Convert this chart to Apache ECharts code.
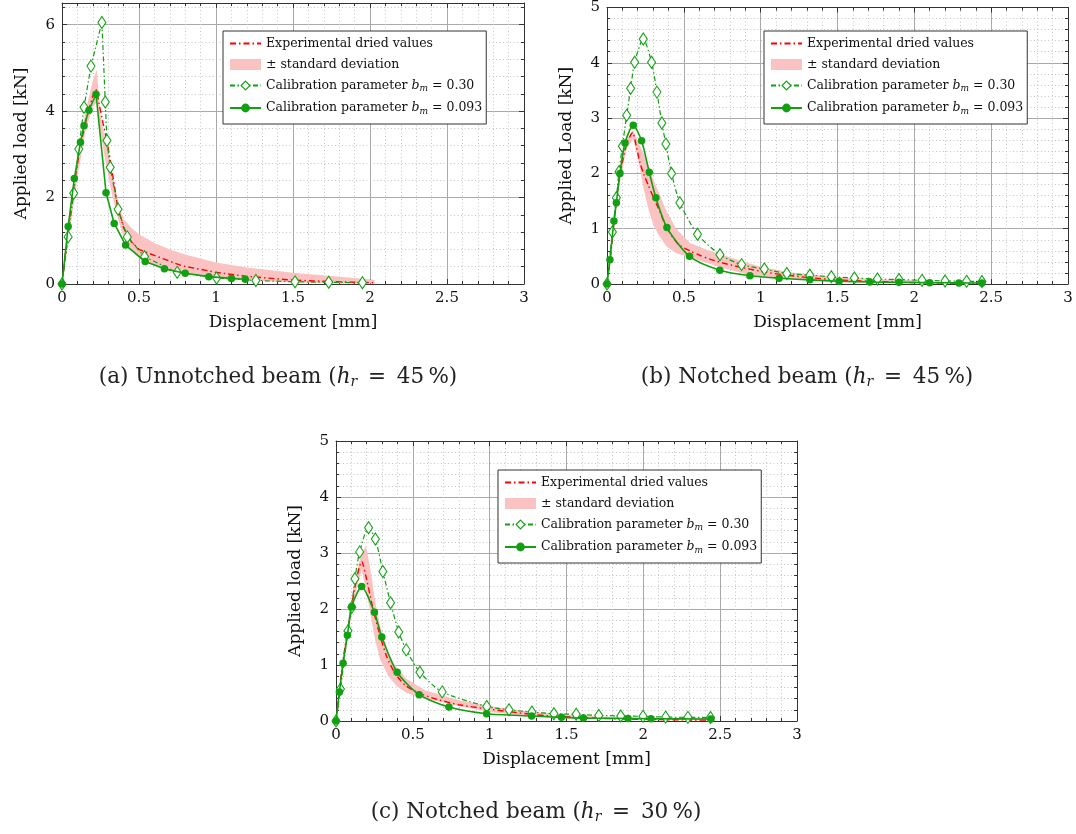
<!DOCTYPE html>
<html><head><meta charset="utf-8">
<script src="https://cdn.jsdelivr.net/npm/echarts@6/dist/echarts.min.js"></script>
<style>html,body{margin:0;padding:0;background:#fff}#chart{width:1076px;height:834px}</style>
</head><body><div id="chart"></div>
<script>
// ---------- DATA ----------
// (a) Unnotched beam, h_r = 45 %
const a_exp_x  = [0, 0.04, 0.08, 0.12, 0.16, 0.2, 0.222, 0.263, 0.295, 0.328, 0.36, 0.40, 0.45, 0.5, 0.6, 0.78, 1.0, 1.19, 1.5, 1.8, 2.02];
const a_exp_y  = [0, 1.25, 2.35, 3.2, 3.85, 4.35, 4.5, 3.78, 3.24, 2.56, 1.8, 1.3, 0.98, 0.8, 0.66, 0.42, 0.27, 0.18, 0.09, 0.05, 0.03];
const a_sd_x   = [0, 0.05, 0.1, 0.15, 0.2, 0.226, 0.246, 0.274, 0.306, 0.33, 0.36, 0.38, 0.40, 0.45, 0.5, 0.6, 0.7, 0.8, 1.0, 1.2, 1.5, 1.8, 2.03];
const a_sd_hi  = [0, 1.45, 2.85, 3.95, 4.7, 4.96, 4.0, 3.45, 3.0, 2.5, 2.0, 1.7, 1.5, 1.3, 1.15, 0.95, 0.8, 0.68, 0.5, 0.38, 0.26, 0.17, 0.1];
const a_sd_lo  = [0, 1.2, 2.45, 3.5, 4.1, 4.2, 3.6, 3.0, 2.4, 2.0, 1.55, 1.3, 1.1, 0.78, 0.6, 0.42, 0.31, 0.23, 0.13, 0.08, 0.04, 0.02, 0.01];
const a_b030_x = [0, 0.04, 0.076, 0.109, 0.143, 0.188, 0.259, 0.281, 0.292, 0.313, 0.364, 0.424, 0.536, 0.748, 1.004, 1.259, 1.513, 1.732, 1.951];
const a_b030_y = [0, 1.09, 2.10, 3.12, 4.09, 5.04, 6.05, 4.21, 3.32, 2.70, 1.73, 1.09, 0.63, 0.27, 0.14, 0.08, 0.05, 0.04, 0.03];
const a_b093_x = [0, 0.04, 0.08, 0.12, 0.143, 0.175, 0.221, 0.286, 0.339, 0.413, 0.54, 0.665, 0.80, 0.953, 1.10, 1.19];
const a_b093_y = [0, 1.33, 2.44, 3.28, 3.66, 4.02, 4.39, 2.11, 1.40, 0.90, 0.52, 0.35, 0.25, 0.17, 0.13, 0.11];

// (b) Notched beam, h_r = 45 %
const b_exp_x  = [0, 0.02, 0.045, 0.07, 0.1, 0.13, 0.167, 0.19, 0.214, 0.24, 0.268, 0.30, 0.333, 0.387, 0.463, 0.54, 0.604, 0.669, 0.755, 0.842, 0.929, 1.037, 1.145, 1.3, 1.5, 1.7, 1.9, 2.1, 2.3, 2.45];
const b_exp_y  = [0, 0.42, 1.1, 1.7, 2.2, 2.55, 2.74, 2.5, 2.2, 1.98, 1.79, 1.58, 1.38, 1.03, 0.72, 0.6, 0.52, 0.45, 0.38, 0.32, 0.27, 0.21, 0.17, 0.12, 0.075, 0.05, 0.032, 0.022, 0.016, 0.012];
const b_sd_x   = [0, 0.02, 0.045, 0.07, 0.1, 0.13, 0.17, 0.19, 0.214, 0.236, 0.27, 0.30, 0.333, 0.387, 0.45, 0.54, 0.65, 0.75, 0.88, 1.0, 1.2, 1.5, 1.8, 2.1];
const b_sd_hi  = [0, 0.47, 1.18, 1.8, 2.3, 2.62, 2.78, 2.65, 2.5, 2.38, 2.15, 1.9, 1.68, 1.32, 1.0, 0.74, 0.62, 0.53, 0.41, 0.31, 0.21, 0.12, 0.08, 0.06];
const b_sd_lo  = [0, 0.38, 1.0, 1.6, 2.1, 2.45, 2.62, 2.4, 2.1, 1.75, 1.35, 1.08, 0.9, 0.68, 0.56, 0.48, 0.38, 0.29, 0.2, 0.13, 0.08, 0.05, 0.03, 0.02];
const b_b030_x = [0, 0.035, 0.061, 0.078, 0.10, 0.128, 0.154, 0.18, 0.236, 0.29, 0.325, 0.357, 0.383, 0.42, 0.474, 0.589, 0.735, 0.876, 1.024, 1.17, 1.32, 1.46, 1.61, 1.76, 1.90, 2.05, 2.20, 2.34, 2.44];
const b_b030_y = [0, 0.94, 1.56, 2.03, 2.49, 3.05, 3.54, 4.01, 4.43, 4.01, 3.47, 2.91, 2.53, 2.0, 1.47, 0.9, 0.53, 0.35, 0.27, 0.19, 0.16, 0.13, 0.11, 0.09, 0.08, 0.066, 0.055, 0.048, 0.045];
const b_b093_x = [0, 0.019, 0.045, 0.061, 0.084, 0.117, 0.171, 0.225, 0.275, 0.318, 0.39, 0.537, 0.734, 0.93, 1.12, 1.32, 1.51, 1.71, 1.90, 2.10, 2.29, 2.44];
const b_b093_y = [0, 0.44, 1.14, 1.47, 2.0, 2.55, 2.87, 2.59, 2.02, 1.56, 1.02, 0.50, 0.25, 0.15, 0.105, 0.075, 0.05, 0.036, 0.03, 0.024, 0.02, 0.018];

// (c) Notched beam, h_r = 30 %
const c_exp_x  = [0, 0.037, 0.08, 0.124, 0.167, 0.2, 0.233, 0.276, 0.33, 0.385, 0.45, 0.537, 0.667, 0.8, 0.97, 1.12, 1.3, 1.5, 1.7, 1.9, 2.1, 2.3, 2.45];
const c_exp_y  = [0, 0.91, 1.69, 2.4, 2.85, 2.52, 2.1, 1.63, 1.15, 0.85, 0.64, 0.5, 0.38, 0.29, 0.22, 0.17, 0.11, 0.075, 0.05, 0.035, 0.025, 0.018, 0.015];
const c_sd_x   = [0, 0.037, 0.08, 0.124, 0.167, 0.195, 0.222, 0.254, 0.287, 0.341, 0.396, 0.46, 0.58, 0.8, 1.0, 1.25, 1.5, 1.8, 2.1, 2.45];
const c_sd_hi  = [0, 1.0, 1.8, 2.55, 3.0, 3.12, 2.75, 2.15, 1.7, 1.2, 0.95, 0.75, 0.55, 0.37, 0.27, 0.17, 0.11, 0.07, 0.05, 0.04];
const c_sd_lo  = [0, 0.82, 1.58, 2.25, 2.7, 2.35, 1.95, 1.45, 1.1, 0.8, 0.62, 0.5, 0.4, 0.27, 0.16, 0.09, 0.05, 0.03, 0.02, 0.01];
const c_b030_x = [0, 0.029, 0.078, 0.103, 0.123, 0.154, 0.212, 0.256, 0.305, 0.355, 0.408, 0.457, 0.546, 0.691, 0.981, 1.126, 1.275, 1.418, 1.563, 1.71, 1.853, 1.998, 2.145, 2.29, 2.437];
const c_b030_y = [0, 0.57, 1.61, 2.03, 2.54, 3.02, 3.45, 3.25, 2.67, 2.11, 1.59, 1.27, 0.87, 0.52, 0.26, 0.2, 0.16, 0.13, 0.12, 0.1, 0.09, 0.083, 0.07, 0.065, 0.062];
const c_b093_x = [0, 0.022, 0.046, 0.074, 0.102, 0.167, 0.25, 0.298, 0.398, 0.541, 0.735, 0.98, 1.273, 1.467, 1.61, 1.90, 2.05, 2.44];
const c_b093_y = [0, 0.52, 1.03, 1.53, 2.04, 2.4, 1.94, 1.50, 0.87, 0.47, 0.25, 0.13, 0.09, 0.065, 0.052, 0.045, 0.04, 0.035];

const NAME_EXP  = 'Experimental dried values';
const NAME_SD   = '\u00b1 standard deviation';
const NAME_B030 = 'Calibration parameter b_m = 0.30';
const NAME_B093 = 'Calibration parameter b_m = 0.093';
const X_NAME = 'Displacement [mm]';
const Y_NAMES = ['Applied load [kN]', 'Applied Load [kN]', 'Applied load [kN]'];
const CAPTIONS = [['(a) Unnotched beam (', '45'], ['(b) Notched beam (', '45'], ['(c) Notched beam (', '30']];
const Y_MAX = [6.5, 5, 5];
const Y_INTERVAL = [2, 1, 1];

// ---------- STYLE / LAYOUT ----------
const F = 'DejaVu Serif';
const CAP_F = 'DejaVu Serif';
const GREEN = '#12a012';
const RED = '#ff0000';
const PINK = '#fbc2c2';
const FRAME = '#333';

const data = [
  {exp:[a_exp_x,a_exp_y], sd:[a_sd_x,a_sd_hi,a_sd_lo], b030:[a_b030_x,a_b030_y], b093:[a_b093_x,a_b093_y]},
  {exp:[b_exp_x,b_exp_y], sd:[b_sd_x,b_sd_hi,b_sd_lo], b030:[b_b030_x,b_b030_y], b093:[b_b093_x,b_b093_y]},
  {exp:[c_exp_x,c_exp_y], sd:[c_sd_x,c_sd_hi,c_sd_lo], b030:[c_b030_x,c_b030_y], b093:[c_b093_x,c_b093_y]}
];
const layout = [
  {grid:{left:62, top:3, width:462, height:281}, legend:{left:223, top:31}, cap:{left:278, top:366}, smooth:false},
  {grid:{left:607, top:3, width:461, height:281}, legend:{left:764, top:31}, cap:{left:807, top:366}, smooth:0.25},
  {grid:{left:336, top:441, width:461, height:280}, legend:{left:498, top:470}, cap:{left:536, top:801}, smooth:0.25}
];

const zip = (xs, ys) => xs.map((x, i) => [x, ys[i]]);

const grids = [], xAxes = [], yAxes = [], series = [], legends = [], titles = [];
const tickCommon = {inside:true, length:5, lineStyle:{color:FRAME}};
const minorCommon = {show:true, splitNumber:5, length:3, lineStyle:{color:FRAME}};

layout.forEach((L, i) => {
  grids.push(L.grid);
  const xa = 2*i, ya = 2*i;
  xAxes.push({
    type:'value', gridIndex:i, min:0, max:3, interval:0.5, position:'bottom',
    axisLine:{show:true, onZero:false, lineStyle:{color:FRAME, width:1}},
    axisTick:tickCommon, minorTick:minorCommon,
    splitLine:{show:true, lineStyle:{color:'#a9a9a9', width:1}},
    minorSplitLine:{show:true, lineStyle:{color:'#c4c4c4', width:1, type:[1,2.5]}},
    axisLabel:{fontFamily:F, fontSize:15, color:'#111', margin:7},
    name:X_NAME, nameLocation:'middle', nameGap:30,
    nameTextStyle:{fontFamily:F, fontSize:17, color:'#111'}
  });
  xAxes.push({
    type:'value', gridIndex:i, min:0, max:3, interval:0.5, position:'top',
    axisLine:{show:true, onZero:false, lineStyle:{color:FRAME, width:1}},
    axisTick:tickCommon, minorTick:minorCommon,
    splitLine:{show:false}, axisLabel:{show:false}
  });
  yAxes.push({
    type:'value', gridIndex:i, min:0, max:Y_MAX[i], interval:Y_INTERVAL[i], position:'left',
    axisLine:{show:true, onZero:false, lineStyle:{color:FRAME, width:1}},
    axisTick:tickCommon, minorTick:minorCommon,
    splitLine:{show:true, lineStyle:{color:'#a9a9a9', width:1}},
    minorSplitLine:{show:true, lineStyle:{color:'#c4c4c4', width:1, type:[1,2.5]}},
    axisLabel:{fontFamily:F, fontSize:15, color:'#111', margin:7, showMaxLabel: Y_MAX[i] % Y_INTERVAL[i] === 0},
    name:Y_NAMES[i], nameLocation:'middle', nameGap:32, nameRotate:90,
    nameTextStyle:{fontFamily:F, fontSize:17, color:'#111'}
  });
  yAxes.push({
    type:'value', gridIndex:i, min:0, max:Y_MAX[i], interval:Y_INTERVAL[i], position:'right',
    axisLine:{show:true, onZero:false, lineStyle:{color:FRAME, width:1}},
    axisTick:tickCommon, minorTick:minorCommon,
    splitLine:{show:false}, axisLabel:{show:false}
  });

  const D = data[i];
  const sdx = D.sd[0], hi = D.sd[1], lo = D.sd[2];
  series.push({
    type:'custom', name:NAME_SD, xAxisIndex:xa, yAxisIndex:ya, z:1, silent:true,
    itemStyle:{color:PINK},
    data:[[sdx[0], lo[0]]],
    renderItem:(params, api) => {
      const pts = [];
      for (let k = 0; k < sdx.length; k++) pts.push(api.coord([sdx[k], hi[k]]));
      for (let k = sdx.length - 1; k >= 0; k--) pts.push(api.coord([sdx[k], lo[k]]));
      return {type:'polygon', shape:{points:pts}, style:{fill:PINK}};
    }
  });
  series.push({
    type:'line', name:NAME_EXP, xAxisIndex:xa, yAxisIndex:ya, z:3,
    data:zip(D.exp[0], D.exp[1]), symbol:'none', smooth:L.smooth,
    lineStyle:{color:RED, width:1.4, type:[6,3,1.5,3]}, itemStyle:{color:RED}
  });
  series.push({
    type:'line', name:NAME_B030, xAxisIndex:xa, yAxisIndex:ya, z:4,
    data:zip(D.b030[0], D.b030[1]), symbol:'diamond', symbolSize:[8,12], smooth:L.smooth,
    lineStyle:{color:GREEN, width:1.2, type:[5,2.5,1.5,2.5]},
    itemStyle:{color:'#fff', borderColor:GREEN, borderWidth:1.1}
  });
  series.push({
    type:'line', name:NAME_B093, xAxisIndex:xa, yAxisIndex:ya, z:5,
    data:zip(D.b093[0], D.b093[1]), symbol:'circle', symbolSize:7.5, smooth:L.smooth,
    lineStyle:{color:GREEN, width:1.6}, itemStyle:{color:GREEN}
  });

  legends.push({
    left:L.legend.left, top:L.legend.top, orient:'vertical', selectedMode:false,
    backgroundColor:'#fff', borderColor:FRAME, borderWidth:1, borderRadius:0,
    padding:[6,4,8,6], itemGap:8, itemWidth:31, itemHeight:11,
    data:[
      {name:NAME_EXP, itemStyle:{color:'rgba(0,0,0,0)', borderColor:'rgba(0,0,0,0)', borderWidth:0}},
      {name:NAME_SD, icon:'rect', itemStyle:{color:PINK, borderWidth:0}},
      {name:NAME_B030, itemStyle:{color:'#fff', borderColor:GREEN, borderWidth:1.1}},
      {name:NAME_B093}
    ],
    formatter:(n) => {
      const k = n.indexOf('b_m');
      if (k < 0) return '{t|' + n + '}';
      return '{t|' + n.slice(0, k) + '}{i|b}{s|m}{t|' + n.slice(k + 3) + '}';
    },
    textStyle:{
      fontFamily:F, fontSize:12.5, color:'#111',
      rich:{
        t:{fontFamily:F, fontSize:12.5, color:'#111'},
        i:{fontFamily:F, fontSize:12.5, fontStyle:'italic', color:'#111'},
        s:{fontFamily:F, fontSize:9, fontStyle:'italic', color:'#111', padding:[7,0,0,0]}
      }
    }
  });

  titles.push({
    left:L.cap.left, top:L.cap.top, textAlign:'center', padding:0,
    text:'{t|' + CAPTIONS[i][0] + '}{i|h}{s|r}{t|\u2002=\u2002' + CAPTIONS[i][1] + '\u2009%)}',
    textStyle:{
      fontWeight:'normal',
      rich:{
        t:{fontFamily:CAP_F, fontSize:21.5, fontWeight:'normal', color:'#222'},
        i:{fontFamily:CAP_F, fontSize:21.5, fontWeight:'normal', fontStyle:'italic', color:'#222'},
        s:{fontFamily:CAP_F, fontSize:14, fontWeight:'normal', fontStyle:'italic', color:'#222', padding:[9,0,0,0]}
      }
    }
  });
});

const chart = echarts.init(document.getElementById('chart'), null, {renderer:'canvas'});
chart.setOption({
  backgroundColor:'#fff', animation:false,
  title:titles, grid:grids, xAxis:xAxes, yAxis:yAxes, legend:legends, series:series
});
</script></body></html>
